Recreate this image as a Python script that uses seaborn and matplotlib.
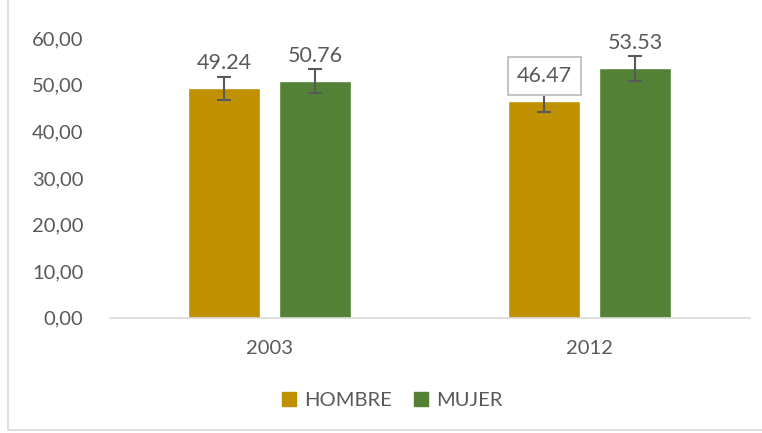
import pandas as pd
import matplotlib.pyplot as plt
import matplotlib.ticker as mticker
from matplotlib.lines import Line2D
import seaborn as sns

# datos
years = ['2003', '2012']
sexo = ['HOMBRE', 'MUJER']
hombre = [49.24, 46.47]
mujer = [50.76, 53.53]
err_hombre = [2.5, 2.3]
err_mujer = [2.6, 2.7]
colores = ['#BF9000', '#538135']

df = pd.DataFrame({
    'anio': years * 2,
    'sexo': [sexo[0]] * 2 + [sexo[1]] * 2,
    'valor': hombre + mujer,
    'err': err_hombre + err_mujer,
})

sns.set_style('white')
plt.rcParams['font.family'] = ['Lato', 'DejaVu Sans']
texto = '#595959'

fig = plt.figure(figsize=(7.62, 4.33), dpi=100)
ax = fig.add_axes([0.144, 0.266, 0.840, 0.646])

sns.barplot(data=df, x='anio', y='valor', hue='sexo', order=years, hue_order=sexo,
            palette=colores, width=0.57, gap=0.21, saturation=1, errorbar=None, ax=ax)

# barras de error y etiquetas
for cont, s in zip(ax.containers, sexo):
    sub = df[df.sexo == s].set_index('anio').loc[years]
    for bar, v, e in zip(cont, sub['valor'], sub['err']):
        xc = bar.get_x() + bar.get_width() / 2
        ax.errorbar(xc, v, yerr=e, color='#595959', capsize=5, elinewidth=1.5,
                    capthick=1.5, zorder=3)
        caja = None
        if s == 'HOMBRE' and v == hombre[1]:
            caja = dict(boxstyle='square,pad=0.42', fc='white', ec='#BFBFBF', lw=1.3)
        ax.annotate(f'{v:.2f}', (xc, v), xytext=(0, 18), textcoords='offset points',
                    ha='center', va='center', fontsize=15.5, color=texto, bbox=caja, zorder=4)

ax.set_ylim(0, 60)
ax.set_xlim(-0.5, 1.5)
ax.yaxis.set_major_locator(mticker.MultipleLocator(10))
ax.yaxis.set_major_formatter(mticker.FuncFormatter(lambda v, p: f'{v:.2f}'.replace('.', ',')))
ax.tick_params(axis='both', labelsize=14.5, colors=texto, length=0)
ax.tick_params(axis='x', pad=16)
ax.tick_params(axis='y', pad=19)
ax.set_xlabel('')
ax.set_ylabel('')
for lado in ['top', 'right', 'left']:
    ax.spines[lado].set_visible(False)
ax.spines['bottom'].set_color('#D9D9D9')
ax.spines['bottom'].set_linewidth(1.2)

ax.legend_.remove()
marcas = [Line2D([], [], marker='s', ls='', markersize=10, color=c) for c in colores]
fig.legend(marcas, sexo, loc='center', bbox_to_anchor=(0.515, 0.075), ncol=2, frameon=False,
           fontsize=14.5, labelcolor=texto, handlelength=0.7, handletextpad=0.4,
           columnspacing=1.1)

# borde del grafico
fig.add_artist(Line2D([8 / 762, 8 / 762], [3 / 433, 1], transform=fig.transFigure,
                      color='#D9D9D9', lw=1.2))
fig.add_artist(Line2D([8 / 762, 1], [3 / 433, 3 / 433], transform=fig.transFigure,
                      color='#D9D9D9', lw=1.2))

fig.savefig('out.png', dpi=100)
